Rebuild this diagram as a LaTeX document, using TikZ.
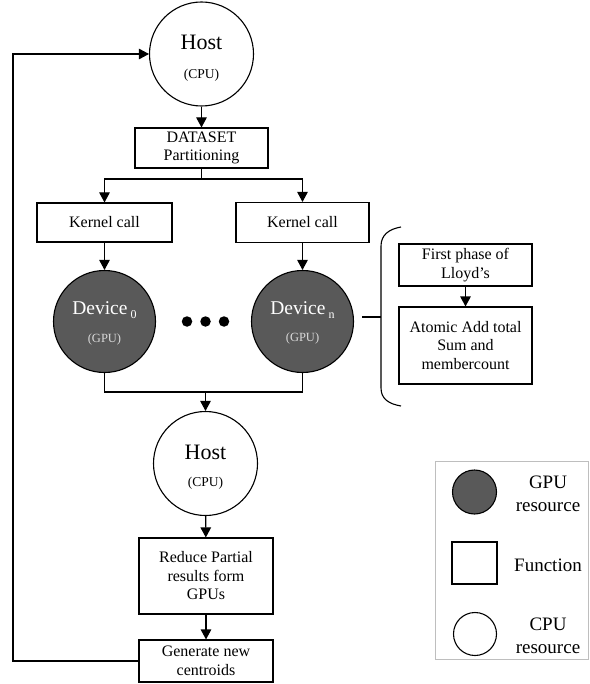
\documentclass[tikz,border=0pt]{standalone}
\usepackage{fontspec}
\setmainfont{Liberation Serif}
\usetikzlibrary{arrows.meta}
\definecolor{gpufill}{RGB}{89,89,89}
\definecolor{gputxt}{RGB}{217,217,217}
\definecolor{leggray}{RGB}{190,190,190}
\tikzset{
  ln/.style={line width=1.1pt},
  arr/.style={ln,-{Triangle[length=10pt,width=10.5pt]}},
  fbox/.style={draw,line width=1.1pt,rectangle,inner sep=0pt,align=center,
    font=\fontsize{16}{18.5}\selectfont},
  cpuc/.style={draw,line width=1.1pt,circle,inner sep=0pt,minimum size=104pt,fill=white},
  gpuc/.style={draw,line width=1.1pt,circle,inner sep=0pt,minimum size=102pt,fill=gpufill},
  hosttxt/.style={inner sep=0pt,font=\fontsize{22}{22}\selectfont},
  cputxt/.style={inner sep=0pt,font=\fontsize{13.5}{13.5}\selectfont},
  devtxt/.style={inner sep=0pt,text=white,font=\fontsize{19.5}{19.5}\selectfont},
  gputxtst/.style={inner sep=0pt,text=gputxt,font=\fontsize{12.5}{12.5}\selectfont},
  legtxt/.style={inner sep=0pt,align=center,font=\fontsize{19}{23}\selectfont},
  dot/.style={circle,fill=black,inner sep=0pt,minimum size=10.5pt},
}
\begin{document}
\begin{tikzpicture}[x=1pt,y=-1pt]
\useasboundingbox (0,0) rectangle (589,684);
% top host
\node[cpuc] (h1) at (201.5,54) {};
\node[hosttxt] (h1a) at (201.5,42) {Host};
\node[cputxt] (h1b) at (201.5,75) {(CPU)};
% dataset
\node[fbox,minimum width=133pt,minimum height=40pt] (ds) at (201.5,148) {DATASET\\Partitioning};
% kernels
\node[fbox,minimum width=135pt,minimum height=39pt] (k0) at (104.5,222.5) {Kernel call};
\node[fbox,minimum width=133pt,minimum height=40pt] (kn) at (302.5,222.5) {Kernel call};
% devices
\node[gpuc] (d0) at (104.5,321.5) {};
\node[devtxt] (d0a) at (104.5,310) {Device\,\raisebox{-3.5pt}{\fontsize{12}{12}\selectfont 0}};
\node[gputxtst] (d0b) at (104.5,339) {(GPU)};
\node[gpuc] (dn) at (302.5,321.5) {};
\node[devtxt] (dna) at (302.5,310) {Device\,\raisebox{-3.5pt}{\fontsize{12}{12}\selectfont n}};
\node[gputxtst] (dnb) at (302.5,338) {(GPU)};
% dots
\node[dot] (p1) at (187,321.5) {};
\node[dot] (p2) at (205.5,321.5) {};
\node[dot] (p3) at (224,321.5) {};
% second host
\node[cpuc] (h2) at (205.5,463.5) {};
\node[hosttxt] (h2a) at (205.5,452) {Host};
\node[cputxt] (h2b) at (205.5,483) {(CPU)};
% reduce, generate
\node[fbox,minimum width=134pt,minimum height=76pt] (rd) at (206,576) {Reduce Partial\\results form\\GPUs};
\node[fbox,minimum width=134pt,minimum height=42pt] (gn) at (206,661) {Generate new\\centroids};
% brace side boxes
\node[fbox,minimum width=133pt,minimum height=42pt] (fp) at (465.5,265) {First phase of\\Lloyd’s};
\node[fbox,minimum width=133pt,minimum height=77pt] (at) at (465.5,345.5) {Atomic Add total\\Sum and\\membercount};
% coordinates
\coordinate (split) at (201.5,179);
\coordinate (merge) at (205.5,392);
\coordinate (fbl) at (13,661);
\coordinate (tk) at (362,317);
\coordinate (tkb) at (381,317);
% connectors
\draw[arr] (h1) -- (ds);
\draw[ln] (ds.south) -- (split);
\draw[arr] (split) -| (k0.north);
\draw[arr] (split) -| (kn.north);
\draw[arr] (k0) -- (d0);
\draw[arr] (kn) -- (dn);
\draw[ln] (d0.south) |- (merge) -| (dn.south);
\draw[arr] (merge) -- (h2.north);
\draw[arr] (h2) -- (rd);
\draw[arr] (rd) -- (gn);
\draw[arr] (gn.west) -- (fbl) |- (h1.west);
\draw[arr] (fp) -- (at);
% brace
\draw[ln] (401,227) .. controls (389,229) and (381,235) .. (381,246) -- (381,388) .. controls (381,399) and (389,404) .. (401,406);
\draw[ln] (tk) -- (tkb);
% legend
\node[draw=leggray,line width=1pt,rectangle,inner sep=0pt,minimum width=153pt,minimum height=198pt] (leg) at (511.5,560) {};
\node[draw,line width=1.1pt,circle,inner sep=0pt,minimum size=44pt,fill=gpufill] (lg) at (474.5,492) {};
\node[draw,line width=1.1pt,rectangle,inner sep=0pt,minimum width=45pt,minimum height=42pt] (lf) at (474.5,563) {};
\node[draw,line width=1.1pt,circle,inner sep=0pt,minimum size=43pt] (lc) at (475,634) {};
\node[legtxt] (lgt) at (548,494) {GPU\\resource};
\node[legtxt] (lft) at (548,565) {Function};
\node[legtxt] (lct) at (548,636) {CPU\\resource};
\end{tikzpicture}
\end{document}
